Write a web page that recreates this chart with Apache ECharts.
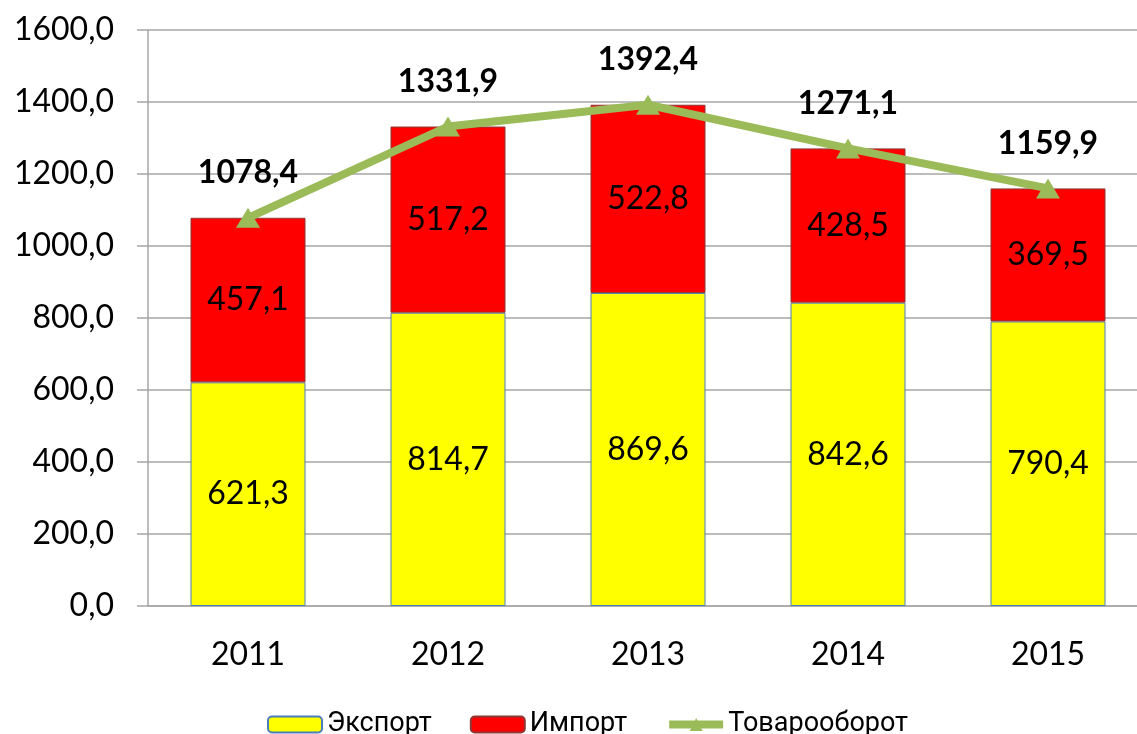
<!DOCTYPE html>
<html>
<head>
<meta charset="utf-8">
<style>
  html, body { margin: 0; padding: 0; background: #fff; overflow: hidden; }
  #main { width: 1150px; height: 734px; }
</style>
<script src="https://cdn.jsdelivr.net/npm/echarts@6/dist/echarts.min.js"></script>
</head>
<body>
<div id="main"></div>
<script>
// данные графика
const years = ['2011', '2012', '2013', '2014', '2015']
const exportData = [621.3, 814.7, 869.6, 842.6, 790.4]
const importData = [457.1, 517.2, 522.8, 428.5, 369.5]
const turnover = [1078.4, 1331.9, 1392.4, 1271.1, 1159.9]

// 1600,0 -> запятая вместо точки
const fmt = v => Number(v).toFixed(1).replace('.', ',')

const FONT = 'Lato'

// контейнер чуть шире окна: правый край сетки уходит за кадр, как в оригинале
const myChart = echarts.init(document.querySelector('#main'))
const option = {
  animation: false,
  textStyle: { fontFamily: FONT },
  grid: {
    left: 148,
    top: 30,
    width: 1000,
    bottom: 128
  },
  legend: {
    top: 706,
    left: 262,
    itemWidth: 54,
    itemHeight: 16,
    itemGap: 38,
    textStyle: { fontFamily: 'Roboto', fontSize: 27, color: '#000', padding: [0, 0, 0, 0] },
    data: [
      'Экспорт',
      'Импорт',
      { name: 'Товарооборот', lineStyle: { width: 8, color: '#9bbb59' } }
    ]
  },
  xAxis: {
    type: 'category',
    data: years,
    axisLine: { lineStyle: { color: '#a6a6a6', width: 1.5 } },
    axisTick: { show: false },
    axisLabel: { color: '#000', fontSize: 32, margin: 33, fontFamily: FONT }
  },
  yAxis: {
    type: 'value',
    min: 0,
    max: 1600,
    interval: 200,
    axisLine: { show: true, lineStyle: { color: '#a6a6a6', width: 1.5 } },
    axisTick: { show: true, length: 11, lineStyle: { color: '#a6a6a6', width: 1.5 } },
    splitLine: { lineStyle: { color: '#a6a6a6', width: 1.5 } },
    axisLabel: {
      color: '#000',
      fontSize: 32,
      margin: 34,
      fontFamily: FONT,
      formatter: v => fmt(v)
    }
  },
  series: [
    {
      name: 'Экспорт',
      type: 'bar',
      stack: 'total',
      barWidth: 115,
      data: exportData,
      itemStyle: { color: '#ffff00', borderColor: '#4a7ebb', borderWidth: 1 },
      label: {
        show: true,
        position: 'inside',
        color: '#000',
        fontSize: 32,
        fontFamily: FONT,
        formatter: p => fmt(p.value)
      }
    },
    {
      name: 'Импорт',
      type: 'bar',
      stack: 'total',
      barWidth: 115,
      data: importData,
      itemStyle: { color: '#ff0000', borderColor: '#8c3836', borderWidth: 1 },
      label: {
        show: true,
        position: 'inside',
        color: '#000',
        fontSize: 32,
        fontFamily: FONT,
        formatter: p => fmt(p.value)
      }
    },
    {
      name: 'Товарооборот',
      type: 'line',
      data: turnover,
      z: 5,
      symbol: 'triangle',
      symbolSize: [24, 20],
      lineStyle: { color: '#9bbb59', width: 8 },
      itemStyle: { color: '#9bbb59' },
      label: {
        show: true,
        position: 'top',
        distance: 19,
        color: '#000',
        fontSize: 32,
        fontWeight: 'bold',
        fontFamily: FONT,
        formatter: p => fmt(p.value)
      }
    }
  ]
}
myChart.setOption(option)
</script>
</body>
</html>
